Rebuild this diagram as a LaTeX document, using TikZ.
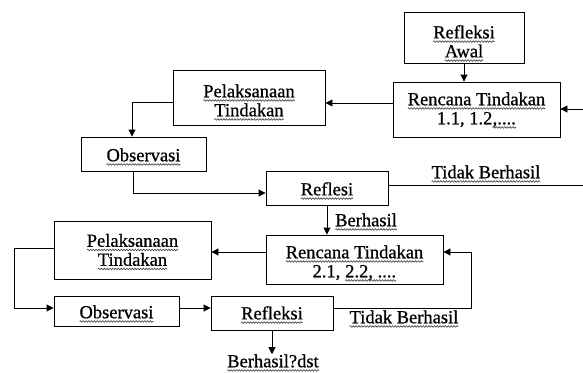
\documentclass[tikz,border=0pt]{standalone}
\usepackage{fontspec}
\setmainfont[FakeBold=0.8]{Liberation Serif}
\usetikzlibrary{arrows.meta,decorations.pathmorphing}
\newcommand\tfont{\fontsize{18.5}{19}\selectfont}
\tikzset{wav/.style={draw=black!75, line width=0.6pt, decorate, decoration={snake, amplitude=0.8pt, segment length=2.8pt}}}
\newcommand\sq[1]{\tikz[baseline=(sqw.base)]{\node[inner sep=0pt, outer sep=0pt, draw=none, minimum width=0pt, minimum height=0pt, align=left, font=\tfont] (sqw) {#1}; \path[wav] ([yshift=-3.2pt]sqw.base west) -- ([yshift=-3.2pt]sqw.base east);}}
\begin{document}
\begin{tikzpicture}[x=1pt,y=-1pt,
  box/.style={draw, line width=0.9pt, inner sep=0pt},
  txt/.style={align=center, inner sep=0pt, font=\tfont},
  lbl/.style={inner sep=0pt, font=\tfont},
  arr/.style={-{Triangle[length=7pt,width=7pt]}, line width=0.9pt},
  ln/.style={line width=0.9pt}]
\useasboundingbox (0,0) rectangle (583,372);
\node[box, minimum width=120pt, minimum height=51pt] (ra) at (464,37.5) {};
\node[box, minimum width=167pt, minimum height=55pt] (rt1) at (476.5,109.5) {};
\node[box, minimum width=152pt, minimum height=55pt] (pt1) at (249,97.5) {};
\node[box, minimum width=125pt, minimum height=34pt] (ob1) at (143.5,154) {};
\node[box, minimum width=122pt, minimum height=34pt] (rf1) at (327,188) {};
\node[box, minimum width=177pt, minimum height=49pt] (rt2) at (354.5,259.5) {};
\node[box, minimum width=157pt, minimum height=58pt] (pt2) at (132.5,250) {};
\node[box, minimum width=125pt, minimum height=30pt] (ob2) at (116.5,311) {};
\node[box, minimum width=122pt, minimum height=34pt] (rf2) at (272,313) {};
\node[txt] (raT) at ([yshift=-6pt]ra.center) {\sq{Refleksi}\\\sq{Awal}};
\node[txt] (rt1T) at ([yshift=-1pt]rt1.center) {\sq{Rencana Tindakan}\\1.1, 1.2\sq{,....}};
\node[txt] (pt1T) at ([yshift=-5pt]pt1.center) {\sq{Pelaksanaan}\\\sq{Tindakan}};
\node[txt] (ob1T) at ([yshift=-3pt]ob1.center) {\sq{Observasi}};
\node[txt] (rf1T) at ([yshift=-3pt]rf1.center) {\sq{Reflesi}};
\node[txt] (rt2T) at ([yshift=-4pt]rt2.center) {\sq{Rencana Tindakan}\\2.1, \sq{2.2, ....}};
\node[txt] (pt2T) at ([yshift=-2pt]pt2.center) {\sq{Pelaksanaan}\\\sq{Tindakan}};
\node[txt] (ob2T) at ([yshift=-3pt]ob2.center) {\sq{Observasi}};
\node[txt] (rf2T) at ([yshift=-2pt]rf2.center) {\sq{Refleksi}};
\node[lbl] (tb1) at (486,174) {\sq{Tidak Berhasil}};
\node[lbl] (bh1) at (366,222) {\sq{Berhasil}};
\node[lbl] (tb2) at (404,319) {\sq{Tidak Berhasil}};
\node[lbl] (bd) at (273,363) {\sq{Berhasil?dst}};
\coordinate (inR) at (583,109);
\coordinate (outR) at (583,185);
\coordinate (h1) at (0,103);
\coordinate (c1) at (132,102);
\coordinate (c2) at (133,193);
\coordinate (h2) at (0,252);
\coordinate (c3) at (14,248);
\coordinate (c4) at (14,308);
\coordinate (c5) at (471,308);
\coordinate (c6) at (471,252);
\draw[arr] (ra.south) -- (rt1.north -| ra.south);
\draw[arr] (inR) -- (rt1.east |- inR);
\draw[arr] (rt1.west |- h1) -- (pt1.east |- h1);
\draw[arr] (pt1.west |- c1) -- (c1) -- (ob1.north -| c1);
\draw[arr] (ob1.south -| c2) -- (c2) -- (rf1.west |- c2);
\draw[ln] (rf1.east |- outR) -- (outR);
\draw[arr] (rf1.south) -- (rt2.north -| rf1.south);
\draw[arr] (rt2.west |- h2) -- (pt2.east |- h2);
\draw[arr] (pt2.west |- c3) -- (c3) -- (c4) -- (ob2.west |- c4);
\draw[arr] (ob2.east |- c4) -- (rf2.west |- c4);
\draw[arr] (rf2.east |- c5) -- (c5) -- (c6) -- (rt2.east |- c6);
\draw[arr] (rf2.south) -- (rf2.south |- bd.north);
\end{tikzpicture}
\end{document}
